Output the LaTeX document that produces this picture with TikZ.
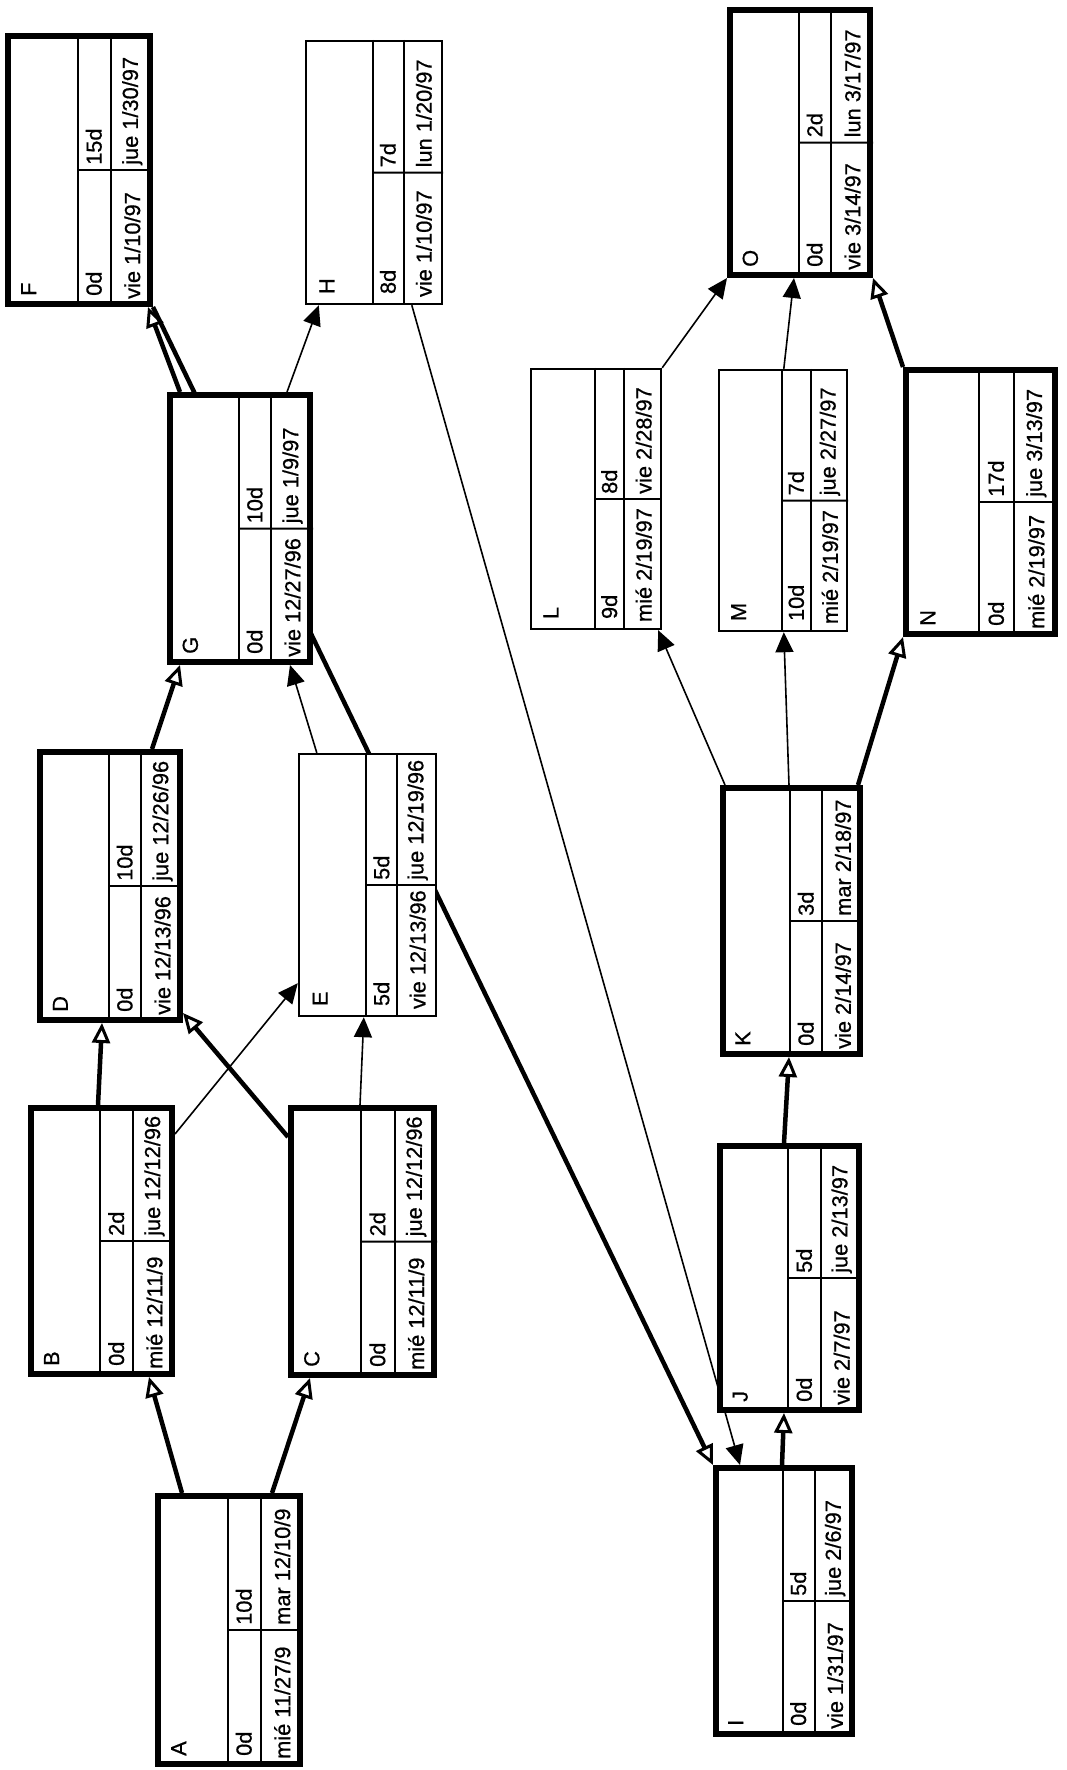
\documentclass[tikz,border=0pt]{standalone}
\usepackage{fontspec}
\setmainfont{Liberation Sans}
\newfontfamily\scanfont[FakeBold=0.7]{Liberation Sans}
\usetikzlibrary{arrows.meta,positioning,fit,calc,backgrounds}

% one PERT box: style, name, corner, corner, slack, duration, start, finish
\newcommand{\task}[8]{%
  \node[#1, fit={(#3) (#4)}] (#2) {};
  \draw[divider] ($(#2.north west)!.49!(#2.north east)$) -- ($(#2.south west)!.49!(#2.south east)$);
  \draw[divider] ($(#2.north west)!.715!(#2.north east)$) -- ($(#2.south west)!.715!(#2.south east)$);
  \draw[divider] ($(#2.west)!.49!(#2.east)$) -- (#2.east);
  \node[cell] at ([yshift=11pt]$(#2.south west)!.16!(#2.south east)$) {#2};
  \node[cell] at ([yshift=11pt]$(#2.south west)!.6!(#2.south east)$) {#5};
  \node[cell] at ([yshift=5pt]$(#2.west)!.6!(#2.east)$) {#6};
  \node[cell] at ([yshift=8pt]$(#2.south west)!.86!(#2.south east)$) {#7};
  \node[cell] at ([yshift=5pt]$(#2.west)!.86!(#2.east)$) {#8};
}

\begin{document}
\begin{tikzpicture}[x=1pt,y=-1pt,
    crit/.style={draw,line width=6pt,fill=white,inner sep=0pt},
    free/.style={draw,line width=2.4pt,fill=white,inner sep=0pt},
    divider/.style={line width=2pt},
    cell/.style={rotate=90,anchor=west,inner sep=0pt,font=\scanfont\fontsize{21.8}{23}\selectfont}]
\useasboundingbox (0,0) rectangle (1066,1770);

\task{crit}{A}{158,1496}{300,1764}{0d}{10d}{mié 11/27/9}{mar 12/10/9}
\task{crit}{B}{31,1108}{172,1374}{0d}{2d}{mié 12/11/9}{jue 12/12/96}
\task{crit}{C}{291,1108}{434,1375}{0d}{2d}{mié 12/11/9}{jue 12/12/96}
\task{crit}{D}{40,752}{180,1020}{0d}{10d}{vie 12/13/96}{jue 12/26/96}
\task{free}{E}{299,754}{436,1016}{5d}{5d}{vie 12/13/96}{jue 12/19/96}
\task{crit}{F}{8,36}{150,304}{0d}{15d}{vie 1/10/97}{jue 1/30/97}
\task{crit}{G}{170,395}{310,662}{0d}{10d}{vie 12/27/96}{jue 1/9/97}
\task{free}{H}{306,41}{442,304}{8d}{7d}{vie 1/10/97}{lun 1/20/97}
\task{crit}{I}{716,1468}{852,1734}{0d}{5d}{vie 1/31/97}{jue 2/6/97}
\task{crit}{J}{720,1146}{859,1410}{0d}{5d}{vie 2/7/97}{jue 2/13/97}
\task{crit}{K}{723,788}{860,1054}{0d}{3d}{vie 2/14/97}{mar 2/18/97}
\task{free}{L}{531,369}{661,629}{9d}{8d}{mié 2/19/97}{vie 2/28/97}
\task{free}{M}{719,370}{847,631}{10d}{7d}{mié 2/19/97}{jue 2/27/97}
\task{crit}{N}{906,370}{1055,634}{0d}{17d}{mié 2/19/97}{jue 3/13/97}
\task{crit}{O}{730,10}{870,275}{0d}{2d}{vie 3/14/97}{lun 3/17/97}

\begin{pgfonlayer}{background}
\begin{scope}[every edge/.style={draw,line width=4.5pt,
                -{Triangle[open,length=20pt,width=18pt,line width=3pt]}}]
    \path ([xshift=27pt]A.north west) edge ([xshift=121pt]B.south west);
    \path ([xshift=117pt]A.north west) edge ([xshift=22pt]C.south west);
    \path ([xshift=70pt]B.north west) edge ([xshift=65pt]D.south west);
    \path ([yshift=-32pt]C.north west) edge ([yshift=10pt]D.south east);
    \path ([xshift=115pt]D.north west) edge ([xshift=13pt]G.south west);
    \path ([xshift=13pt]G.north west) edge ([xshift=-5pt]F.south east);
    \path (F.south east) edge (I.north west);
    \path ([xshift=69pt]I.north west) edge ([xshift=67pt]J.south west);
    \path ([xshift=67pt]J.north west) edge ([xshift=69pt]K.south west);
    \path ([xshift=-5pt]K.north east) edge (N.south west);
    \path (N.north west) edge (O.south east);
\end{scope}
\begin{scope}[every edge/.style={draw,line width=1.6pt,
                -{Triangle[length=20pt,width=18pt]}}]
    \path ([yshift=-29pt]B.north east) edge ([yshift=34pt]E.south west);
    \path ([xshift=72pt]C.north west) edge ([xshift=66pt]E.south west);
    \path ([xshift=19pt]E.north west) edge ([xshift=123pt]G.south west);
    \path ([xshift=120pt]G.north west) edge ([xshift=14pt]H.south west);
    \path ([xshift=107pt]H.south west) edge ([xshift=27pt]I.north west);
    \path ([xshift=5pt]K.north west) edge ([xshift=-4pt]L.south east);
    \path ([xshift=69pt]K.north west) edge ([xshift=66pt]M.south west);
    \path (L.north east) edge (O.south west);
    \path ([xshift=66pt]M.north west) edge ([xshift=67pt]O.south west);
\end{scope}
\end{pgfonlayer}
\end{tikzpicture}
\end{document}
